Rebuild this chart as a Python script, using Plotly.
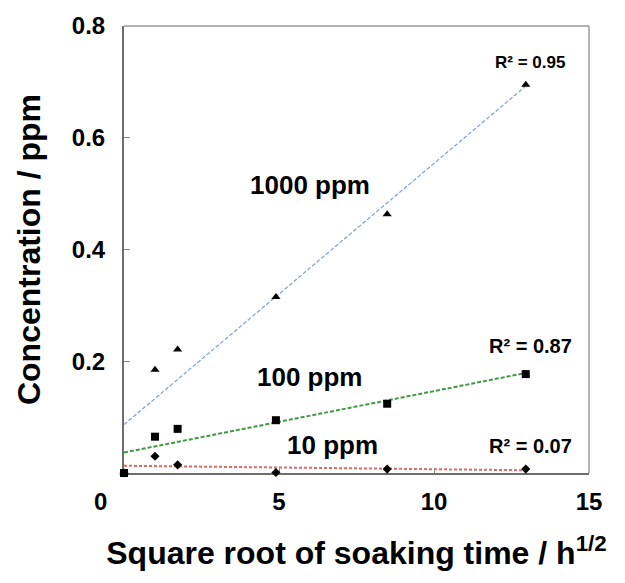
import numpy as np
import plotly.graph_objects as go

# Square root of soaking time / h^1/2
x_vals = [0.0, 1.0, 1.73, 4.9, 8.49, 12.96]
# Concentration / ppm
y_1000 = [0.0, 0.185, 0.221, 0.315, 0.463, 0.695]
y_100 = [0.0, 0.065, 0.079, 0.0945, 0.124, 0.177]
y_10 = [0.0, 0.030, 0.0146, 0.001, 0.007, 0.007]

series_names = ["1000 ppm", "100 ppm", "10 ppm"]
r2_labels = ["R² = 0.95", "R² = 0.87", "R² = 0.07"]

x_ticks = [5, 10, 15]
x_tick_text = ["5", "10", "15"]
y_ticks = [0.2, 0.4, 0.6, 0.8]
y_tick_text = ["0.2", "0.4", "0.6", "0.8"]

FONT = "Liberation Sans, Arial, Helvetica, sans-serif"

fig = go.Figure()

series = [
    (y_1000, "triangle-up", 8, "#7f9fd0", 1.2, "4px,2px"),
    (y_100, "square", 8, "#3f9a3f", 2.0, "4px,2px"),
    (y_10, "diamond", 7, "#e06868", 2.0, "3px,2px"),
]

xa = np.array(x_vals)
for (ys, sym, msize, lcol, lw, dash), name in zip(series, series_names):
    slope, icpt = np.polyfit(xa, np.array(ys), 1)
    xl = np.array([xa.min(), xa.max()])
    fig.add_trace(go.Scatter(x=xl, y=slope * xl + icpt, mode="lines",
                             line=dict(color=lcol, width=lw, dash=dash),
                             showlegend=False, hoverinfo="skip"))
for (ys, sym, msize, lcol, lw, dash), name in zip(series, series_names):
    fig.add_trace(go.Scatter(x=x_vals, y=ys, mode="markers", name=name,
                             marker=dict(symbol=sym, size=msize, color="black"),
                             showlegend=False, cliponaxis=False))

ann = []
ann.append(dict(x=6.0, y=0.516, text="<b>1000 ppm</b>", font=dict(size=26)))
ann.append(dict(x=6.0, y=0.1716, text="<b>100 ppm</b>", font=dict(size=26)))
ann.append(dict(x=6.73, y=0.050, text="<b>10 ppm</b>", font=dict(size=26)))
ann.append(dict(x=13.1, y=0.735, text="<b>" + r2_labels[0] + "</b>", font=dict(size=17)))
ann.append(dict(x=13.12, y=0.227, text="<b>" + r2_labels[1] + "</b>", font=dict(size=20)))
ann.append(dict(x=13.12, y=0.049, text="<b>" + r2_labels[2] + "</b>", font=dict(size=20)))
annotations = []
for a in ann:
    a.update(xref="x", yref="y", showarrow=False, xanchor="center", yanchor="middle")
    a["font"].update(family=FONT, color="black")
    annotations.append(a)
# "0" tick label sits left of the origin in the reference
annotations.append(dict(x=-0.0495, y=-0.0635, xref="paper", yref="paper", text="<b>0</b>",
                        showarrow=False, font=dict(family=FONT, size=24, color="black"),
                        xanchor="center", yanchor="middle"))

fig.update_layout(
    width=625, height=583,
    margin=dict(l=124, r=36, t=16, b=110),
    paper_bgcolor="white", plot_bgcolor="white",
    font=dict(family=FONT, color="black"),
    annotations=annotations,
    shapes=[
        dict(type="line", xref="paper", yref="paper", x0=0, x1=1, y0=1, y1=1,
             line=dict(color="#9a9a9a", width=1.5)),
        dict(type="line", xref="paper", yref="paper", x0=1, x1=1, y0=0, y1=1,
             line=dict(color="#9a9a9a", width=1.5)),
    ],
)

fig.update_xaxes(
    range=[0, 15], tickvals=x_ticks, ticktext=["<b>%s</b>" % t for t in x_tick_text],
    showgrid=False, zeroline=False, showline=True, linecolor="#6e6e6e", linewidth=2,
    ticks="inside", ticklen=5, tickcolor="#8a8a8a", layer="below traces",
    tickfont=dict(size=24, family=FONT), ticklabelstandoff=6,
    title=dict(text="<b>Square root of soaking time / h<sup>1/2</sup></b>",
               font=dict(size=32, family=FONT), standoff=28),
)
fig.update_yaxes(
    range=[0, 0.8], tickvals=y_ticks, ticktext=["<b>%s</b>" % t for t in y_tick_text],
    showgrid=False, zeroline=False, showline=True, linecolor="#6e6e6e", linewidth=2,
    ticks="inside", ticklen=6, tickcolor="#8a8a8a", layer="below traces",
    tickfont=dict(size=24, family=FONT), ticklabelstandoff=12,
    title=dict(text="<b>Concentration / ppm</b>", font=dict(size=32, family=FONT), standoff=22),
)

fig.write_html("out.html")
